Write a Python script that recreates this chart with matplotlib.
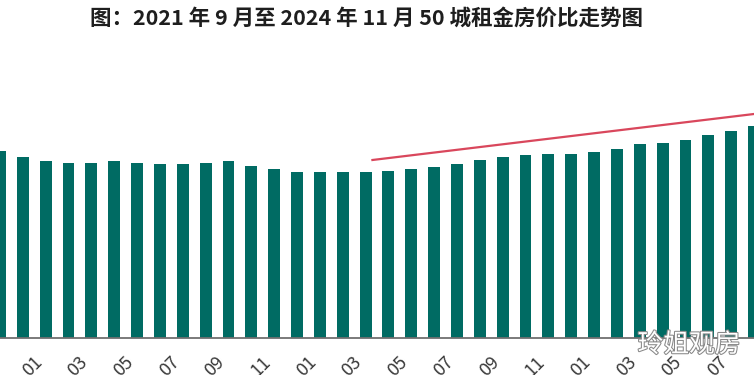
import matplotlib.pyplot as plt
import matplotlib.patheffects as pe

plt.rcParams['font.family'] = ['Noto Sans CJK SC', 'DejaVu Sans']

# 2021-11 .. 2024-08 (visible part of the chart)
months = ['2021-11', '2021-12',
          '2022-01', '2022-02', '2022-03', '2022-04', '2022-05', '2022-06',
          '2022-07', '2022-08', '2022-09', '2022-10', '2022-11', '2022-12',
          '2023-01', '2023-02', '2023-03', '2023-04', '2023-05', '2023-06',
          '2023-07', '2023-08', '2023-09', '2023-10', '2023-11', '2023-12',
          '2024-01', '2024-02', '2024-03', '2024-04', '2024-05', '2024-06',
          '2024-07', '2024-08']
ratio = [1.87, 1.81,
         1.77, 1.75, 1.75, 1.77, 1.75, 1.74, 1.74, 1.75, 1.77, 1.72, 1.69, 1.66,
         1.66, 1.66, 1.66, 1.67, 1.69, 1.71, 1.74, 1.78, 1.81, 1.83, 1.84, 1.84,
         1.86, 1.89, 1.94, 1.95, 1.98, 2.03, 2.07, 2.12]
# red trend line, from just after 2023-03 up to 2024-08
trend_months = ['2023-03', '2024-08']
trend_values = [1.78, 2.24]

title = '图：2021 年 9 月至 2024 年 11 月 50 城租金房价比走势图'
watermark = '玲姐观房'

fig = plt.figure(figsize=(7.54, 3.75), dpi=100)
ax = fig.add_axes([0, 37 / 375, 1, 338 / 375])

x = list(range(len(months)))
ax.bar(x, ratio, width=0.52, color='#006b63')

t0 = months.index(trend_months[0]) + 0.3
t1 = months.index(trend_months[1])
ax.plot([t0, t1], trend_values, color='#d9475c', lw=1.6)

ax.set_xlim(0.17, 32.88)
ax.set_ylim(0, 3.38)

labels = [m[-2:] if int(m[-2:]) % 2 == 1 else '' for m in months]
ax.set_xticks(x)
ax.set_xticklabels(labels, rotation=45, ha='right', fontsize=13, color='#3a3a3a')
ax.tick_params(axis='x', length=0, pad=11)
ax.set_yticks([])
for s in ['top', 'right', 'left']:
    ax.spines[s].set_visible(False)
ax.spines['bottom'].set_color('#707070')
ax.spines['bottom'].set_linewidth(1.3)

fig.text(0.486, 0.952, title, ha='center', va='center', fontsize=15.5,
         color='#1e1e1e', fontweight='bold')
fig.text(0.914, 0.08, watermark, ha='center', va='center', fontsize=18.5,
         color='white',
         path_effects=[pe.withStroke(linewidth=1.5, foreground='#888888')])

fig.savefig('out.png', dpi=100)
